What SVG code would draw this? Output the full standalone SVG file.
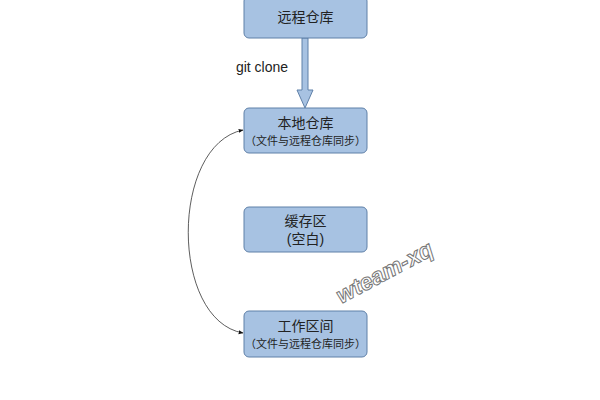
<svg xmlns="http://www.w3.org/2000/svg" width="600" height="400" viewBox="0 0 600 400">
<style>
.box{fill:#a7c2e2;stroke:#5f80a8;stroke-width:1}
.t{font-family:"Liberation Sans","Noto Sans CJK SC",sans-serif;fill:#222;text-anchor:middle}
.big{font-size:14px}
.small{font-size:11px}
</style>
<defs>
<marker id="ah" viewBox="0 0 10 10" refX="9" refY="5" markerWidth="6" markerHeight="6" orient="auto-start-reverse">
<path d="M0,1 L10,5 L0,9 z" fill="#111"/>
</marker>
</defs>
<rect width="600" height="400" fill="#fff"/>
<g id="connectors">
<path d="M302,38 L308,38 L308,90 L313,90 L305,108 L297,90 L302,90 Z" fill="#a7c2e2" stroke="#5f80a8" stroke-width="1"/>
<text class="t big" x="262" y="72">git clone</text>
<path d="M243,130 C170,145 170,320 243,333" fill="none" stroke="#333" stroke-width="0.8" marker-start="url(#ah)" marker-end="url(#ah)"/>
</g>
<g id="remote">
<rect class="box" x="244" y="-4" width="123" height="42" rx="5"/>
<text class="t big" x="305.5" y="22">远程仓库</text>
</g>
<g id="local">
<rect class="box" x="244" y="108" width="123" height="45" rx="5"/>
<text class="t big" x="305.5" y="128">本地仓库</text>
<text class="t small" x="305.5" y="145">（文件与远程仓库同步）</text>
</g>
<g id="cache">
<rect class="box" x="244" y="207" width="123" height="45" rx="5"/>
<text class="t big" x="305.5" y="226">缓存区</text>
<text class="t big" x="305.5" y="244">(空白)</text>
</g>
<g id="work">
<rect class="box" x="244" y="311" width="123" height="46" rx="5"/>
<text class="t big" x="305.5" y="331">工作区间</text>
<text class="t small" x="305.5" y="348">（文件与远程仓库同步）</text>
</g>
<text x="0" y="0" transform="translate(388,279) rotate(-28)" font-family="Liberation Sans,sans-serif" font-size="23" font-weight="bold" font-style="italic" fill="#fff" stroke="#777" stroke-width="1" text-anchor="middle">wteam-xq</text>
</svg>
